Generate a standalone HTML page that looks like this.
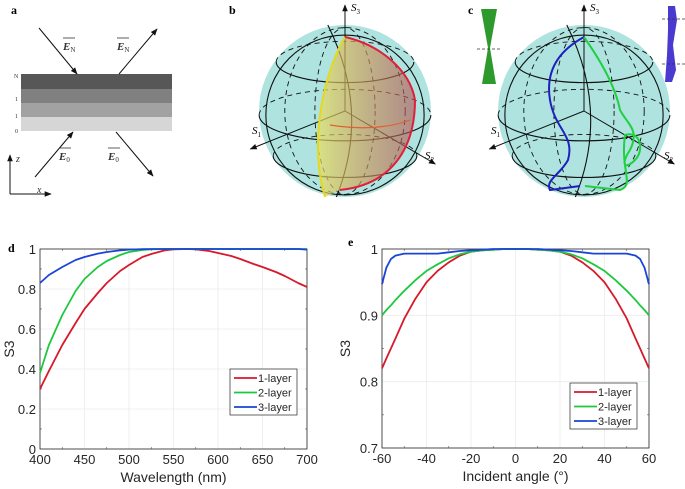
<!DOCTYPE html>
<html><head><meta charset="utf-8"><style>
body{margin:0;background:#fff;}
svg{display:block;font-family:"Liberation Sans",sans-serif;}
.serif{font-family:"Liberation Serif",serif;}
</style></head><body>
<svg id="fig" width="685" height="489" viewBox="0 0 685 489">
<defs>
<marker id="ah" viewBox="0 0 10 10" refX="9" refY="5" markerWidth="7" markerHeight="7" orient="auto"><path d="M0,1 L10,5 L0,9 z" fill="#111"/></marker>
<linearGradient id="yr" x1="0" x2="1"><stop offset="0" stop-color="#e8e060" stop-opacity="0.7"/><stop offset="1" stop-color="#b05050" stop-opacity="0.6"/></linearGradient>
</defs>
<!-- panel a -->
<g>
<text x="11" y="14" class="serif" font-weight="bold" font-size="12">a</text>
<rect x="21" y="74" width="151" height="15" fill="#575757"/>
<rect x="21" y="89" width="151" height="14" fill="#808080"/>
<rect x="21" y="103" width="151" height="14" fill="#a2a2a2"/>
<rect x="21" y="117" width="151" height="14" fill="#d6d6d6"/>
<g class="serif" font-size="6" fill="#333"><text x="14" y="78">N</text><text x="15" y="101">1</text><text x="15" y="118">1</text><text x="15" y="133">0</text></g>
<g stroke="#111" stroke-width="1" marker-end="url(#ah)">
<line x1="39" y1="28" x2="77" y2="74"/><line x1="119" y1="74" x2="157" y2="29"/>
<line x1="35" y1="177" x2="73" y2="132"/><line x1="116" y1="132" x2="153" y2="176"/>
<line x1="10" y1="194" x2="10" y2="155"/><line x1="10" y1="194" x2="51" y2="194"/>
</g>
<g class="serif" font-size="11" font-weight="bold" font-style="italic" fill="#333">
<text x="63" y="50">E<tspan font-size="7" font-weight="normal" font-style="normal" dy="2">N</tspan></text>
<text x="117" y="50">E<tspan font-size="7" font-weight="normal" font-style="normal" dy="2">N</tspan></text>
<text x="59" y="160">E<tspan font-size="7" font-weight="normal" font-style="normal" dy="2">0</tspan></text>
<text x="108" y="160">E<tspan font-size="7" font-weight="normal" font-style="normal" dy="2">0</tspan></text>
</g>
<g stroke="#333" stroke-width="0.8"><line x1="63" y1="38" x2="75" y2="38"/><line x1="117" y1="38" x2="129" y2="38"/><line x1="59" y1="148" x2="71" y2="148"/><line x1="108" y1="148" x2="120" y2="148"/></g>
<g class="serif" font-size="10" font-style="italic" fill="#333"><text x="16" y="162">z</text><text x="37" y="193">x</text></g>
</g>
<g id="spheres"></g>
<g id="chartD"></g>
<g id="chartE"></g>
</svg>
<script>
const NS="http://www.w3.org/2000/svg";
function mk(parent,tag,attrs,text){const e=document.createElementNS(NS,tag);for(const k in attrs)e.setAttribute(k,attrs[k]);if(text!==undefined)e.textContent=text;parent.appendChild(e);return e;}

// ---------- spheres ----------
const sp=document.getElementById('spheres');
function sphere(cx,cy,r,label,name){
  const g=mk(sp,'g',{});
  
  
  mk(g,'circle',{cx:cx,cy:cy,r:r,fill:'#aee3df'});
  [-0.6,0.05,0.55].forEach(t=>{const yy=cy+t*r*0.95;const rr=r*Math.sqrt(1-t*t);
    mk(g,'path',{d:`M${cx-rr},${yy} A${rr},${rr*0.3} 0 0 0 ${cx+rr},${yy}`,fill:'none',stroke:'#111','stroke-width':1.1});
    mk(g,'path',{d:`M${cx-rr},${yy} A${rr},${rr*0.3} 0 0 1 ${cx+rr},${yy}`,fill:'none',stroke:'#111','stroke-width':0.9,'stroke-dasharray':'5,4'});});
  [0.35,0.7].forEach(k=>{mk(g,'ellipse',{cx:cx,cy:cy,rx:r*k,ry:r*0.97,fill:'none',stroke:'#111','stroke-width':0.9,'stroke-dasharray':'5,4'});});
  mk(g,'ellipse',{cx:cx,cy:cy+4,rx:r*0.92,ry:r*0.93,fill:'none',stroke:'#111','stroke-width':1.1});
  mk(g,'path',{d:`M${cx-r*0.2},${cy-r} Q${cx+r*0.3},${cy} ${cx-r*0.1},${cy+r}`,fill:'none',stroke:'#111','stroke-width':1.1});
  mk(g,'line',{x1:cx,y1:cy,x2:cx,y2:cy-r-20,stroke:'#111','stroke-width':1,'marker-end':'url(#ah)'});
  mk(g,'line',{x1:cx,y1:cy,x2:cx-r*1.1,y2:cy+38,stroke:'#111','stroke-width':1,'marker-end':'url(#ah)'});
  mk(g,'line',{x1:cx,y1:cy,x2:cx+r*1.05,y2:cy+53,stroke:'#111','stroke-width':1,'marker-end':'url(#ah)'});
  const t1=mk(g,'text',{x:cx+6,y:cy-r-14,'font-size':11,'font-style':'italic',class:'serif'},'S');mk(t1,'tspan',{'font-size':7,'font-style':'normal',dy:3},'3');
  const t2=mk(g,'text',{x:cx-r-7,y:cy+23,'font-size':11,'font-style':'italic',class:'serif'},'S');mk(t2,'tspan',{'font-size':7,'font-style':'normal',dy:3},'1');
  const t3=mk(g,'text',{x:cx+r-6,y:cy+48,'font-size':11,'font-style':'italic',class:'serif'},'S');mk(t3,'tspan',{'font-size':7,'font-style':'normal',dy:3},'2');
  mk(g,'text',{x:cx-r-30,y:cy-97,'font-size':12,'font-weight':'bold',class:'serif'},label);
  return g;
}
const gb=sphere(345,111,86,'b','sphere-b');
mk(gb,'path',{d:'M345,37 C320,80 310,150 325,197 L340,190 C390,185 415,150 415,100 C410,70 380,45 345,37 Z',fill:'url(#yr)'});
mk(gb,'path',{d:'M345,37 C320,80 310,150 325,197',fill:'none',stroke:'#e6d820','stroke-width':2});
mk(gb,'path',{d:'M345,37 C380,45 410,70 415,100 C415,150 390,185 340,190',fill:'none',stroke:'#e0203a','stroke-width':2});
mk(gb,'path',{d:'M330,125 C360,130 390,128 410,120',fill:'none',stroke:'#e06030','stroke-width':1.2});
const gc=sphere(584,111,86,'c','sphere-c');
mk(gc,'path',{d:'M584,37 C560,50 545,70 550,100 C555,130 575,135 568,160 C560,175 545,180 550,190 L580,186',fill:'none',stroke:'#2020c0','stroke-width':2});
mk(gc,'path',{d:'M584,37 C600,60 615,85 620,110 C628,125 640,130 630,150 C620,165 625,170 635,160 C645,150 640,130 625,135 C620,170 635,185 620,190 L585,186',fill:'none',stroke:'#20d040','stroke-width':2});
// small helices
mk(gc,'path',{d:'M481,9 L497,9 L490,48 L496,84 L482,84 L488,48 Z',fill:'#2e9a2e'});
mk(gc,'line',{x1:477,y1:49,x2:501,y2:49,stroke:'#333','stroke-dasharray':'3,2','stroke-width':0.7});
mk(gc,'path',{d:'M668,6 L675,6 L677,20 L673,45 L676,70 L672,82 L665,82 L667,55 L668,30 Z',fill:'#4a3ad0'});
mk(gc,'line',{x1:662,y1:19,x2:685,y2:19,stroke:'#333','stroke-dasharray':'3,2','stroke-width':0.7});
mk(gc,'line',{x1:662,y1:64,x2:685,y2:64,stroke:'#333','stroke-dasharray':'3,2','stroke-width':0.7});

// ---------- chart d ----------
const dX=[400,410,425,440,450,465,475,490,500,515,525,540,550,565,575,590,600,615,625,640,650,665,675,690,700];
const dRed=[0.30,0.39,0.52,0.63,0.70,0.78,0.83,0.89,0.92,0.96,0.975,0.993,0.998,1.0,0.998,0.99,0.98,0.965,0.95,0.925,0.91,0.885,0.865,0.83,0.81];
const dGreen=[0.38,0.52,0.67,0.79,0.85,0.91,0.94,0.97,0.985,0.995,0.998,1,1,1,1,1,1,1,1,1,1,1,1,1,1];
const dBlue=[0.83,0.87,0.91,0.945,0.96,0.977,0.985,0.993,0.997,0.999,1,1,1,1,1,1,1,1,1,1,1,1,1,1,0.997];
const dXTicks=[400,450,500,550,600,650,700];
const dYTicks=[0,0.2,0.4,0.6,0.8,1];
// ---------- chart e ----------
const eX=[-60,-58,-56,-54,-50,-45,-40,-35,-30,-25,-20,-15,-10,-5,0,5,10,15,20,25,30,35,40,45,50,54,56,58,60];
const eRed=[0.82,0.835,0.85,0.865,0.895,0.925,0.95,0.967,0.98,0.99,0.996,0.998,0.999,1,1,1,0.999,0.998,0.996,0.99,0.98,0.967,0.95,0.925,0.895,0.865,0.85,0.835,0.82];
const eGreen=[0.90,0.908,0.915,0.923,0.937,0.953,0.967,0.977,0.986,0.992,0.996,0.998,0.999,1,1,1,0.999,0.998,0.996,0.992,0.986,0.977,0.967,0.953,0.937,0.923,0.915,0.908,0.90];
const eBlue=[0.947,0.972,0.985,0.99,0.993,0.993,0.993,0.993,0.995,0.997,0.998,0.999,1,1,1,1,1,0.999,0.998,0.997,0.995,0.993,0.993,0.993,0.993,0.99,0.985,0.972,0.947];
const eXTicks=[-60,-40,-20,0,20,40,60];
const eYTicks=[0.7,0.8,0.9,1];
const legendLabels=['1-layer','2-layer','3-layer'];
const colors=['#d7192b','#1ec83c','#1a44d8'];

function chart(gid,cfg){
  const g=document.getElementById(gid);
  const {x0,x1,y0,y1,xmin,xmax,ymin,ymax}=cfg;
  const sx=v=>x0+(v-xmin)/(xmax-xmin)*(x1-x0);
  const sy=v=>y0-(v-ymin)/(ymax-ymin)*(y0-y1);
  mk(g,'rect',{x:x0,y:y1,width:x1-x0,height:y0-y1,fill:'#fff',stroke:'none'});
  cfg.xt.forEach((t,i)=>{mk(g,'line',{x1:sx(t),x2:sx(t),y1:y1,y2:y0,stroke:'#ebebeb','stroke-width':0.8});
    if(i<cfg.xt.length-1){const m=(t+cfg.xt[i+1])/2;mk(g,'line',{x1:sx(m),x2:sx(m),y1:y0,y2:y0-2,stroke:'#555','stroke-width':0.6});mk(g,'line',{x1:sx(m),x2:sx(m),y1:y1,y2:y1+2,stroke:'#555','stroke-width':0.6});}
    const tx=mk(g,'text',{x:sx(t),y:y0+15,'text-anchor':'middle','font-size':13,fill:'#262626'},String(t));
    
    });
  cfg.yt.forEach((t,i)=>{mk(g,'line',{x1:x0,x2:x1,y1:sy(t),y2:sy(t),stroke:'#ebebeb','stroke-width':0.8});
    if(i<cfg.yt.length-1){const m=(t+cfg.yt[i+1])/2;mk(g,'line',{x1:x0,x2:x0+2,y1:sy(m),y2:sy(m),stroke:'#555','stroke-width':0.6});mk(g,'line',{x1:x1,x2:x1-2,y1:sy(m),y2:sy(m),stroke:'#555','stroke-width':0.6});}
    const tx=mk(g,'text',{x:x0-4,y:sy(t)+5,'text-anchor':'end','font-size':13,fill:'#262626'},String(t));
    
    });
  mk(g,'rect',{x:x0,y:y1,width:x1-x0,height:y0-y1,fill:'none',stroke:'#262626','stroke-width':0.8});
  cfg.series.forEach((s,i)=>{
    const d=cfg.xs.map((v,j)=>(j?'L':'M')+sx(v).toFixed(1)+','+sy(s[j]).toFixed(1)).join(' ');
    const p=mk(g,'path',{d:d,fill:'none',stroke:colors[i],'stroke-width':1.8,'stroke-linejoin':'round'});
    
    
  });
  const xl=mk(g,'text',{x:(x0+x1)/2,y:y0+33,'text-anchor':'middle','font-size':14,fill:'#262626'},cfg.xlabel);
  
  
  const yl=mk(g,'text',{x:0,y:0,'text-anchor':'middle','font-size':14,fill:'#262626',transform:`translate(${cfg.ylx},${(y0+y1)/2}) rotate(-90)`},'S3');
  
  
  const pl=mk(g,'text',{x:cfg.plx,y:cfg.ply,'font-size':12,'font-weight':'bold',class:'serif'},cfg.panel);
  
  
  const lg=mk(g,'g',{});
  
  
  mk(lg,'rect',{x:cfg.lx,y:cfg.ly,width:67,height:46,fill:'#fff',stroke:'#262626','stroke-width':0.7});
  legendLabels.forEach((t,i)=>{
    const yy=cfg.ly+9+i*14.5;
    mk(lg,'line',{x1:cfg.lx+4,x2:cfg.lx+27,y1:yy,y2:yy,stroke:colors[i],'stroke-width':1.8});
    const tt=mk(lg,'text',{x:cfg.lx+28,y:yy+4,'font-size':11,fill:'#262626'},t);
    
    
  });
}
chart('chartD',{x0:40,x1:307,y0:449,y1:249,xmin:400,xmax:700,ymin:0,ymax:1,xt:dXTicks,yt:dYTicks,xs:dX,series:[dRed,dGreen,dBlue],xlabel:'Wavelength (nm)',ylx:14,plx:8,ply:252,panel:'d',lx:230,ly:369});
chart('chartE',{x0:382,x1:649,y0:448,y1:249,xmin:-60,xmax:60,ymin:0.7,ymax:1,xt:eXTicks,yt:eYTicks,xs:eX,series:[eRed,eGreen,eBlue],xlabel:'Incident angle (°)',ylx:350,plx:348,ply:246,panel:'e',lx:570,ly:383});
</script>
</body></html>
